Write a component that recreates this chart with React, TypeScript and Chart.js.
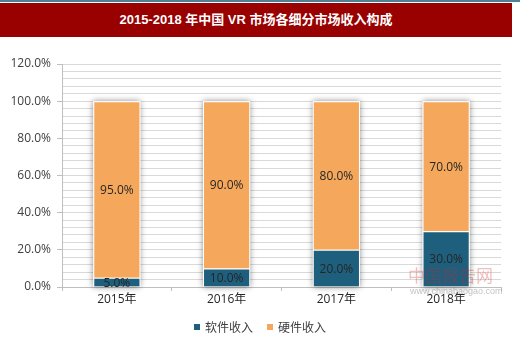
import React, { useEffect, useRef } from "react";
import { Chart, registerables } from "chart.js";

Chart.register(...registerables);

const TITLE = "2015-2018 年中国 VR 市场各细分市场收入构成";
const categories = ["2015年", "2016年", "2017年", "2018年"];
const seriesNames = ["软件收入", "硬件收入"];
const software = [5.0, 10.0, 20.0, 30.0];
const hardware = [95.0, 90.0, 80.0, 70.0];
const colors = ["#1f5f7e", "#f5a85b"];

const FONT = "'Open Sans', 'Noto Sans CJK SC', sans-serif";

export default function App() {
  const ref = useRef<HTMLCanvasElement | null>(null);
  useEffect(() => {
    document.body.style.margin = "0";
    const shadowPlugin = {
      id: "stackShadow",
      beforeDatasetsDraw(chart: any) {
        const ctx = chart.ctx;
        const m0 = chart.getDatasetMeta(0);
        const m1 = chart.getDatasetMeta(1);
        ctx.save();
        ctx.shadowColor = "rgba(0,0,0,0.45)";
        ctx.shadowBlur = 6;
        ctx.shadowOffsetX = 0;
        ctx.shadowOffsetY = 0;
        ctx.fillStyle = "#ffffff";
        m0.data.forEach((b0: any, i: number) => {
          const b1 = m1.data[i];
          const w = b0.width;
          const top = b1.y;
          const bottom = b0.base;
          ctx.fillRect(b0.x - w / 2, top, w, bottom - top);
        });
        ctx.restore();
      },
    };
    const labelPlugin = {
      id: "segLabels",
      afterDatasetsDraw(chart: any) {
        const ctx = chart.ctx;
        ctx.save();
        ctx.font = `12px ${FONT}`;
        ctx.fillStyle = "#262626";
        ctx.textAlign = "center";
        ctx.textBaseline = "middle";
        chart.data.datasets.forEach((ds: any, di: number) => {
          const meta = chart.getDatasetMeta(di);
          meta.data.forEach((bar: any, i: number) => {
            const v = ds.data[i];
            const y = (bar.y + bar.base) / 2;
            ctx.fillText(v.toFixed(1) + "%", bar.x, y + 1);
          });
        });
        ctx.restore();
      },
    };
    const chart = new Chart(ref.current!, {
      type: "bar",
      data: {
        labels: categories,
        datasets: [
          {
            label: seriesNames[0],
            data: software,
            backgroundColor: colors[0],
            borderColor: "#ffffff",
            borderWidth: 1,
            categoryPercentage: 1,
            barPercentage: 0.43,
          },
          {
            label: seriesNames[1],
            data: hardware,
            backgroundColor: colors[1],
            borderColor: "#ffffff",
            borderWidth: 1,
            categoryPercentage: 1,
            barPercentage: 0.43,
          },
        ],
      },
      options: {
        animation: false,
        responsive: false,
        maintainAspectRatio: false,
        layout: { padding: { left: 0, right: 19, top: 64, bottom: 32 } },
        plugins: {
          legend: { display: false },
          tooltip: { enabled: false },
          title: { display: false },
        },
        scales: {
          x: {
            stacked: true,
            grid: {
              offset: true,
              drawOnChartArea: false,
              tickLength: 4,
              color: "#bfbfbf",
            },
            border: { color: "#bfbfbf" },
            ticks: {
              color: "#262626",
              font: { size: 12, family: FONT },
              padding: 1,
            },
            afterFit(scale: any) {
              scale.height = 20;
            },
          },
          y: {
            stacked: true,
            min: 0,
            max: 120,
            grid: {
              color: "#d9d9d9",
              tickLength: 5,
              tickColor: (c: any) =>
                c.tick && c.tick.value % 20 === 0 ? "#bfbfbf" : "rgba(0,0,0,0)",
            },
            border: { color: "#bfbfbf" },
            ticks: {
              stepSize: 4,
              autoSkip: false,
              color: "#404040",
              font: { size: 12, family: FONT },
              padding: 6,
              callback: (v: any) => (Number(v) % 20 === 0 ? Number(v).toFixed(1) + "%" : ""),
            },
            afterFit(scale: any) {
              scale.width = 62;
            },
          },
        },
      },
      plugins: [shadowPlugin, labelPlugin],
    });
    return () => chart.destroy();
  }, []);

  return (
    <div style={{ position: "relative", width: 520, height: 339, background: "#fff", overflow: "hidden" }}>
      <canvas ref={ref} width={520} height={339} style={{ position: "absolute", left: 0, top: 0 }} />
      <div style={{ position: "absolute", left: 0, top: 0, width: 520, height: 2, background: "#4f8196" }} />
      <div
        style={{
          position: "absolute",
          left: 0,
          top: 3,
          width: 512,
          height: 34,
          background: "#990000",
          color: "#fff",
          fontFamily: "'Liberation Sans', 'Noto Sans CJK SC', sans-serif",
          fontWeight: "bold",
          fontSize: 13,
          lineHeight: "34px",
          textAlign: "center",
        }}
      >
        {TITLE}
      </div>
      <div
        style={{
          position: "absolute",
          left: 0,
          top: 317,
          width: 520,
          textAlign: "center",
          fontFamily: FONT,
          fontSize: 12,
          color: "#404040",
        }}
      >
        {seriesNames.map((n, i) => (
          <span key={n} style={{ marginLeft: i ? 14 : 0, display: "inline-flex", alignItems: "center" }}>
            <span style={{ width: 6, height: 6, background: colors[i], display: "inline-block", marginRight: 5 }} />
            {n}
          </span>
        ))}
      </div>
      <div
        style={{
          position: "absolute",
          left: 408,
          top: 264,
          whiteSpace: "nowrap",
          fontFamily: "'Noto Sans CJK SC', sans-serif",
          fontSize: 17,
          lineHeight: "22px",
          color: "rgba(210,40,40,0.3)",
        }}
      >
        中国报告网
      </div>
      <div
        style={{
          position: "absolute",
          left: 410,
          top: 286,
          whiteSpace: "nowrap",
          fontFamily: "'Liberation Sans', sans-serif",
          fontSize: 9,
          color: "rgba(120,120,120,0.45)",
        }}
      >
        www.chinabaogao.com
      </div>
    </div>
  );
}
